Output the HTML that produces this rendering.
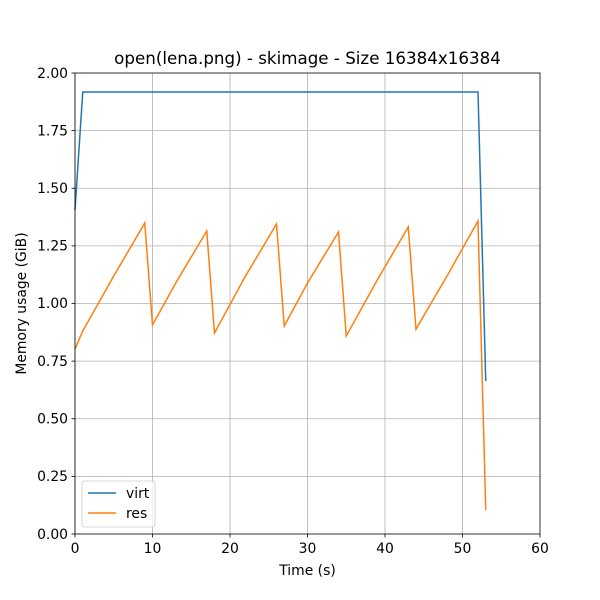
<!DOCTYPE html>
<html><head><style>body{margin:0;background:#fff}svg{display:block}text{font-family:"DejaVu Sans","Liberation Sans",sans-serif;fill:#000}</style></head>
<body>
<svg width="600" height="600" viewBox="0 0 600 600" xmlns="http://www.w3.org/2000/svg">
<rect width="600" height="600" fill="#fff"/>
<g stroke="#b0b0b0" stroke-width="0.8">
<line x1="75" y1="73" x2="75" y2="534"/><line x1="152.5" y1="73" x2="152.5" y2="534"/><line x1="230" y1="73" x2="230" y2="534"/><line x1="307.5" y1="73" x2="307.5" y2="534"/><line x1="385" y1="73" x2="385" y2="534"/><line x1="462.5" y1="73" x2="462.5" y2="534"/>
<line x1="75" y1="476.4" x2="540" y2="476.4"/><line x1="75" y1="418.75" x2="540" y2="418.75"/><line x1="75" y1="361.1" x2="540" y2="361.1"/><line x1="75" y1="303.5" x2="540" y2="303.5"/><line x1="75" y1="245.9" x2="540" y2="245.9"/><line x1="75" y1="188.25" x2="540" y2="188.25"/><line x1="75" y1="130.6" x2="540" y2="130.6"/>
</g>
<polyline fill="none" stroke="#1f77b4" stroke-width="1.5" points="75,210 82.75,92 478,92 485.75,381"/>
<polyline fill="none" stroke="#ff7f0e" stroke-width="1.5" points="75,349 82.75,331 113.75,276 144.75,223 152.5,325 175.75,283 206.75,231 214.5,333 245.5,276 276.5,224 284.25,326 307.5,283 338.5,232 346.25,336 377.25,280 408.25,227 416,329 447,276 478,221 485.75,510"/>
<rect x="75" y="73" width="465" height="461" fill="none" stroke="#000" stroke-width="0.8"/>
<g stroke="#000" stroke-width="0.8">
<line x1="75" y1="534" x2="75" y2="537.5"/><line x1="152.5" y1="534" x2="152.5" y2="537.5"/><line x1="230" y1="534" x2="230" y2="537.5"/><line x1="307.5" y1="534" x2="307.5" y2="537.5"/><line x1="385" y1="534" x2="385" y2="537.5"/><line x1="462.5" y1="534" x2="462.5" y2="537.5"/><line x1="540" y1="534" x2="540" y2="537.5"/>
<line x1="71.5" y1="534" x2="75" y2="534"/><line x1="71.5" y1="476.4" x2="75" y2="476.4"/><line x1="71.5" y1="418.75" x2="75" y2="418.75"/><line x1="71.5" y1="361.1" x2="75" y2="361.1"/><line x1="71.5" y1="303.5" x2="75" y2="303.5"/><line x1="71.5" y1="245.9" x2="75" y2="245.9"/><line x1="71.5" y1="188.25" x2="75" y2="188.25"/><line x1="71.5" y1="130.6" x2="75" y2="130.6"/><line x1="71.5" y1="73" x2="75" y2="73"/>
</g>
<g font-size="13.9" text-anchor="middle">
<text x="75" y="553">0</text><text x="152.5" y="553">10</text><text x="230" y="553">20</text><text x="307.5" y="553">30</text><text x="385" y="553">40</text><text x="462.5" y="553">50</text><text x="540" y="553">60</text>
</g>
<g font-size="13.9" text-anchor="end">
<text x="68" y="539">0.00</text><text x="68" y="481">0.25</text><text x="68" y="423.5">0.50</text><text x="68" y="366">0.75</text><text x="68" y="308">1.00</text><text x="68" y="250.5">1.25</text><text x="68" y="193">1.50</text><text x="68" y="135.5">1.75</text><text x="68" y="78">2.00</text>
</g>
<text x="307.5" y="575" font-size="13.9" text-anchor="middle">Time (s)</text>
<text transform="translate(26,303.5) rotate(-90)" font-size="13.9" text-anchor="middle">Memory usage (GiB)</text>
<text x="307.5" y="64" font-size="16.7" text-anchor="middle">open(lena.png) - skimage - Size 16384x16384</text>
<rect x="82" y="481" width="73" height="46" rx="3" fill="#fff" fill-opacity="0.8" stroke="#ccc" stroke-width="0.8"/>
<line x1="88" y1="493" x2="116" y2="493" stroke="#1f77b4" stroke-width="1.5"/>
<line x1="88" y1="513" x2="116" y2="513" stroke="#ff7f0e" stroke-width="1.5"/>
<text x="126" y="498" font-size="13.9">virt</text>
<text x="126" y="518" font-size="13.9">res</text>
</svg>
</body></html>
